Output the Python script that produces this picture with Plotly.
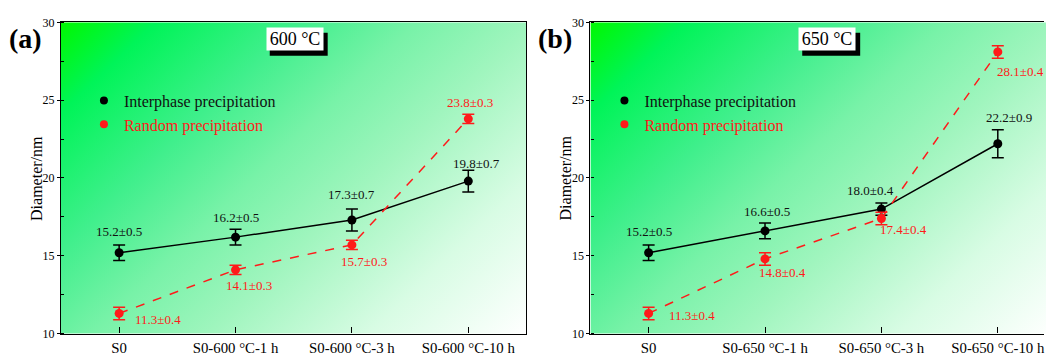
import base64
import plotly.graph_objects as go

# ---- data -------------------------------------------------------------
categories_600 = ["S0", "S0-600 °C-1 h", "S0-600 °C-3 h", "S0-600 °C-10 h"]
categories_650 = ["S0", "S0-650 °C-1 h", "S0-650 °C-3 h", "S0-650 °C-10 h"]

inter_600 = [15.2, 16.2, 17.3, 19.8]
inter_600_err = [0.5, 0.5, 0.7, 0.7]
random_600 = [11.3, 14.1, 15.7, 23.8]
random_600_err = [0.4, 0.3, 0.3, 0.3]

inter_650 = [15.2, 16.6, 18.0, 22.2]
inter_650_err = [0.5, 0.5, 0.4, 0.9]
random_650 = [11.3, 14.8, 17.4, 28.1]
random_650_err = [0.4, 0.4, 0.4, 0.4]

y_ticks = [10, 15, 20, 25, 30]

# ---- styling ----------------------------------------------------------
FONT = "Liberation Serif, Times New Roman, serif"
BLACK = "#000000"
RED = "#ff1a1a"
W, H = 1046, 356

# label placement: (xanchor, reference end of bar, x offset px, y offset px)
place_inter_600 = [("center", "top", 0, 13), ("center", "top", 0, 12),
                   ("center", "top", 0, 15), ("center", "top", 8, 7)]
place_random_600 = [("left", "mid", 14, -6), ("center", "bot", 13, -11),
                    ("center", "bot", 12, -12), ("center", "top", 2, 12)]
place_inter_650 = [("center", "top", 0, 13), ("center", "top", 2, 12),
                   ("center", "top", -11, 12.5), ("center", "top", 11, 12)]
place_random_650 = [("left", "mid", 18, -2), ("center", "bot", 17, -7.5),
                    ("left", "bot", -3, -5), ("left", "bot", -3, -13.5)]


def gradient_uri(w, h):
    """Diagonal green-to-white fill used behind each plot area."""
    d = (w + h) / 2.0
    svg = (
        f'<svg xmlns="http://www.w3.org/2000/svg" width="{w}" height="{h}" '
        f'viewBox="0 0 {w} {h}" preserveAspectRatio="none">'
        f'<defs><linearGradient id="g" gradientUnits="userSpaceOnUse" '
        f'x1="0" y1="0" x2="{d}" y2="{d}">'
        '<stop offset="0" stop-color="#00f800"/>'
        '<stop offset="0.12" stop-color="#00f458"/>'
        '<stop offset="0.30" stop-color="#40ef8c"/>'
        '<stop offset="0.45" stop-color="#78f2a8"/>'
        '<stop offset="0.60" stop-color="#a0f5be"/>'
        '<stop offset="0.80" stop-color="#d8fce4"/>'
        '<stop offset="1" stop-color="#ffffff"/>'
        '</linearGradient></defs>'
        f'<rect x="0" y="0" width="{w}" height="{h}" fill="url(#g)"/></svg>'
    )
    return "data:image/svg+xml;base64," + base64.b64encode(svg.encode()).decode()


fig = go.Figure()
annotations = []
shapes = []


def add_series(xa, ya, vals, errs, color, dash, places, label_color):
    xs = list(range(len(vals)))
    fig.add_trace(go.Scatter(
        x=xs, y=vals, xaxis=xa, yaxis=ya, mode="lines+markers",
        line=dict(color=color, width=1.5, dash=dash),
        marker=dict(color=color, size=9),
        error_y=dict(type="data", array=errs, color=color, thickness=1.5, width=6),
        showlegend=False, hoverinfo="skip",
    ))
    for i, (v, e) in enumerate(zip(vals, errs)):
        xanchor, ref, dx, dy = places[i]
        yref_val = {"top": v + e, "bot": v - e, "mid": v}[ref]
        annotations.append(dict(
            x=i, y=yref_val, xref=xa, yref=ya, text=f"{v:.1f}±{e:.1f}",
            showarrow=False, xanchor=xanchor, yanchor="middle",
            xshift=dx, yshift=dy,
            font=dict(family=FONT, size=13, color=label_color),
        ))


add_series("x", "y", inter_600, inter_600_err, BLACK, "solid", place_inter_600, "#111111")
add_series("x", "y", random_600, random_600_err, RED, "dash", place_random_600, RED)
add_series("x2", "y2", inter_650, inter_650_err, BLACK, "solid", place_inter_650, "#111111")
add_series("x2", "y2", random_650, random_650_err, RED, "dash", place_random_650, RED)

# legend entries (markers only)
for xa, ya, lg in (("x", "y", "legend"), ("x2", "y2", "legend2")):
    fig.add_trace(go.Scatter(
        x=[None], y=[None], xaxis=xa, yaxis=ya, mode="markers",
        marker=dict(color=BLACK, size=8), name="Interphase precipitation", legend=lg))
    fig.add_trace(go.Scatter(
        x=[None], y=[None], xaxis=xa, yaxis=ya, mode="markers",
        marker=dict(color=RED, size=8),
        name=f"<span style='color:{RED}'>Random precipitation</span>", legend=lg))

# panel letters
for px, letter in ((26, "(a)"), (556, "(b)")):
    annotations.append(dict(
        x=px / W, y=1 - 33 / H, xref="paper", yref="paper", text=f"<b>{letter}</b>",
        showarrow=False, xanchor="center", yanchor="middle",
        font=dict(family=FONT, size=28, color=BLACK)))

# y-axis titles
for px in (37, 567):
    annotations.append(dict(
        x=px / W, y=1 - 178.5 / H, xref="paper", yref="paper", text="Diameter/nm",
        showarrow=False, textangle=-90, xanchor="center", yanchor="middle",
        font=dict(family=FONT, size=16, color=BLACK)))

# temperature tags: white label with a dark drop shadow
for left, label in ((266, "600 °C"), (799, "650 °C")):
    shapes.append(dict(
        type="rect", xref="paper", yref="paper", layer="above",
        x0=(left + 4) / W, x1=(left + 62) / W,
        y0=1 - 51 / H, y1=1 - 27 / H,
        fillcolor=BLACK, line=dict(width=0)))
    annotations.append(dict(
        x=(left + 29) / W, y=1 - 33.5 / H, xref="paper", yref="paper", text=label,
        showarrow=False, xanchor="center", yanchor="middle",
        width=54, height=20, borderpad=1, bgcolor="#ffffff",
        font=dict(family=FONT, size=18, color=BLACK)))

y_lo, y_hi = (H - 341) / H, (H - 16) / H
xa_dom = [61 / W, 527 / W]
xb_dom = [591 / W, 1045 / W]
span = 3.5 - (-0.5)
xb_hi = -0.5 + span * (1045 - 591) / (527 - 61)


def x_axis(dom, cats, rng, anchor):
    return dict(
        domain=dom, range=rng, anchor=anchor, tickmode="array",
        tickvals=list(range(len(cats))), ticktext=cats,
        ticks="inside", ticklen=6, tickwidth=1.2, tickcolor=BLACK,
        showline=True, linecolor=BLACK, linewidth=1.3, mirror=True,
        showgrid=False, zeroline=False,
        tickfont=dict(family=FONT, size=14.8, color=BLACK),
    )


def y_axis(anchor, mirror):
    return dict(
        domain=[y_lo, y_hi], range=[10, 30], anchor=anchor,
        tickmode="array", tickvals=y_ticks,
        ticks="outside", ticklen=3, tickwidth=1.2, tickcolor=BLACK,
        minor=dict(dtick=2.5, ticks="inside", ticklen=3, tickwidth=1, tickcolor=BLACK),
        showline=True, linecolor=BLACK, linewidth=1.3, mirror=mirror,
        showgrid=False, zeroline=False,
        tickfont=dict(family=FONT, size=12, color=BLACK),
    )


legend_common = dict(
    bgcolor="rgba(0,0,0,0)", borderwidth=0, xanchor="left", yanchor="top",
    font=dict(family=FONT, size=16, color="#111111"), itemwidth=30,
    tracegroupgap=0,
)

fig.update_layout(
    width=W, height=H, margin=dict(l=0, r=0, t=0, b=0),
    paper_bgcolor="#ffffff", plot_bgcolor="#ffffff",
    xaxis=x_axis(xa_dom, categories_600, [-0.5, 3.5], "y"),
    yaxis=y_axis("x", True),
    xaxis2=x_axis(xb_dom, categories_650, [-0.5, xb_hi], "y2"),
    yaxis2=y_axis("x2", False),
    legend=dict(x=84 / W, y=1 - 80 / H, **legend_common),
    legend2=dict(x=605 / W, y=1 - 80 / H, **legend_common),
    annotations=annotations,
    shapes=shapes,
    images=[
        dict(source=gradient_uri(466, 325), xref="x domain", yref="y domain",
             x=0, y=1, sizex=1, sizey=1, xanchor="left", yanchor="top",
             sizing="stretch", layer="below"),
        dict(source=gradient_uri(466, 325), xref="x2 domain", yref="y2 domain",
             x=0, y=1, sizex=466 / 454, sizey=1, xanchor="left", yanchor="top",
             sizing="stretch", layer="below"),
    ],
)

fig.write_html("out.html")
